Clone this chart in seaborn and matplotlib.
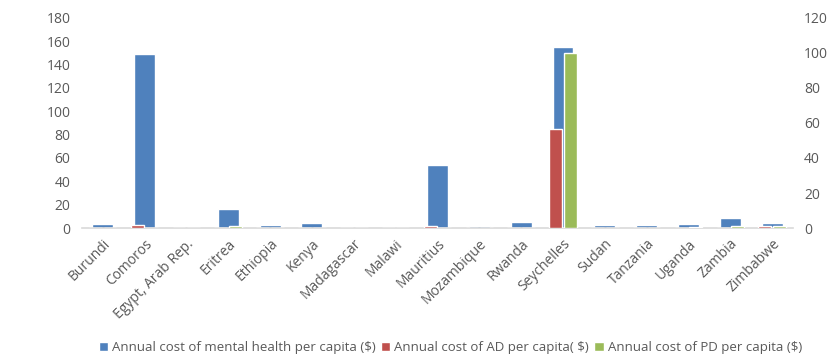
import matplotlib
matplotlib.use("Agg")
import matplotlib.pyplot as plt
from matplotlib.patches import Patch
import seaborn as sns
import pandas as pd

countries = ["Burundi", "Comoros", "Egypt, Arab Rep.", "Eritrea", "Ethiopia", "Kenya",
             "Madagascar", "Malawi", "Mauritius", "Mozambique", "Rwanda", "Seychelles",
             "Sudan", "Tanzania", "Uganda", "Zambia", "Zimbabwe"]
mental_health = [3.4, 149, 0.3, 16, 2.5, 4, 0, 0, 54, 1.5, 5.5, 155, 3, 3, 3.5, 8.3, 4]
cost_ad = [0.3, 1.5, 0.2, 0.3, 0, 0, 0, 0, 1.2, 0, 0.3, 56.5, 0, 0, 0.2, 0, 1.2]
cost_pd = [0, 0, 0, 1.0, 0, 0, 0, 0, 0, 0, 0, 100, 0, 0, 0.7, 1.0, 1.0]

label_mh = "Annual cost of mental health per capita ($)"
label_ad = "Annual cost of AD per capita( $)"
label_pd = "Annual cost of PD per capita ($)"

BLUE, RED, GREEN = "#4F81BD", "#C0504D", "#9BBB59"
TXT = "#595959"

sns.set_theme(style="white")
plt.rcParams["font.family"] = ["Open Sans", "DejaVu Sans"]

df_mh = pd.DataFrame({"country": countries, "value": mental_health})
df_sec = pd.DataFrame({
    "country": countries * 2,
    "value": cost_ad + cost_pd,
    "series": [label_ad] * len(countries) + [label_pd] * len(countries),
})

fig = plt.figure(figsize=(8.34, 3.58), dpi=100)
ax = fig.add_axes([0.098, 0.363, 0.853, 0.587])
ax2 = ax.twinx()

# mental health on the left axis, AD / PD side by side on the right axis
sns.barplot(data=df_mh, x="country", y="value", color=BLUE, width=0.5,
            saturation=1, ax=ax, errorbar=None)
sns.barplot(data=df_sec, x="country", y="value", hue="series",
            palette=[RED, GREEN], width=0.7, gap=0.12, saturation=1,
            ax=ax2, errorbar=None, legend=False)

ax.set_xlim(-0.5, len(countries) - 0.5)
ax.set_ylim(0, 180)
ax.set_yticks(range(0, 181, 20))
ax2.set_ylim(0, 120)
ax2.set_yticks(range(0, 121, 20))

for a in (ax, ax2):
    a.set_xlabel("")
    a.set_ylabel("")
    for s in ("top", "left", "right", "bottom"):
        a.spines[s].set_visible(False)
    a.tick_params(axis="y", length=0, labelsize=10, colors=TXT, pad=8)
ax.spines["bottom"].set_visible(True)
ax.spines["bottom"].set_color("#D9D9D9")
ax.spines["bottom"].set_linewidth(1.2)

ax.set_xticks(range(len(countries)))
ax.set_xticklabels(countries, rotation=45, ha="right", rotation_mode="anchor",
                   fontsize=10, color=TXT)
ax.tick_params(axis="x", length=0, pad=6)

handles = [Patch(facecolor=BLUE, label=label_mh),
           Patch(facecolor=RED, label=label_ad),
           Patch(facecolor=GREEN, label=label_pd)]
leg = fig.legend(handles=handles, loc="center", bbox_to_anchor=(0.54, 0.028),
                 ncol=3, frameon=False, fontsize=9.5, handlelength=0.7,
                 handleheight=0.7, handletextpad=0.3, columnspacing=0.4)
for t in leg.get_texts():
    t.set_color(TXT)

fig.savefig("out.png", dpi=100)
